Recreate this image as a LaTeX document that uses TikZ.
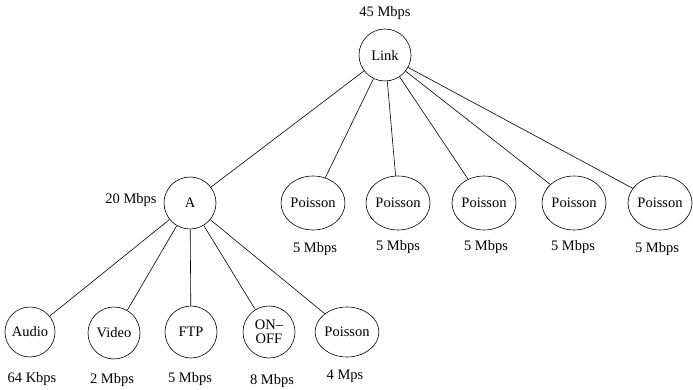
\documentclass[tikz,border=0pt]{standalone}
\usepackage{fontspec}
\setmainfont{Liberation Serif}
\usetikzlibrary{shapes.geometric}
\begin{document}
\begin{tikzpicture}[x=1pt,y=-1pt,line width=0.6pt,
  font=\fontsize{14.5}{13.5}\selectfont,
  src/.style={draw,circle,minimum size=52pt,inner sep=0pt,align=center},
  poi/.style={draw,ellipse,minimum width=64pt,minimum height=54pt,inner sep=0pt},
  rate/.style={inner sep=0pt}]
 \useasboundingbox (0,0) rectangle (693,390);
 % top of the tree
 \node[src] (link) at (385,55) {Link};
 \node[rate] (linkrate) at (385,13) {45 Mbps};
 \node[src] (a) at (190,203) {A};
 \node[rate] (arate) at (131,200) {20 Mbps};
 % poisson sources on the link
 \node[poi] (p1) at (313,203) {Poisson};
 \node[poi] (p2) at (398,203) {Poisson};
 \node[poi] (p3) at (484,203) {Poisson};
 \node[poi] (p4) at (574,203) {Poisson};
 \node[poi] (p5) at (660,203) {Poisson};
 \node[rate] (p1rate) at (315,249) {5 Mbps};
 \node[rate] (p2rate) at (398,247) {5 Mbps};
 \node[rate] (p3rate) at (486,247) {5 Mbps};
 \node[rate] (p4rate) at (573,247) {5 Mbps};
 \node[rate] (p5rate) at (657,249) {5 Mbps};
 % sources under A
 \node[src,minimum size=50pt] (audio) at (30,332) {Audio};
 \node[src] (video) at (114,333) {Video};
 \node[src] (ftp) at (191,332) {FTP};
 \node[src] (onoff) at (269,332) {ON--\\OFF};
 \node[poi,minimum width=62pt,minimum height=50pt] (pa) at (347,332) {Poisson};
 \node[rate] (audiorate) at (32,379) {64 Kbps};
 \node[rate] (videorate) at (112,380) {2 Mbps};
 \node[rate] (ftprate) at (190,379) {5 Mbps};
 \node[rate] (onoffrate) at (272,381) {8 Mbps};
 \node[rate] (parate) at (345,376) {4 Mps};
 % links
 \draw (link) -- (a);
 \draw (link) -- (p1);
 \draw (link) -- (p2);
 \draw (link) -- (p3);
 \draw (link) -- (p4);
 \draw (link) -- (p5);
 \draw (a) -- (audio);
 \draw (a) -- (video);
 \draw (a) -- (ftp);
 \draw (a) -- (onoff);
 \draw (a) -- (pa);
\end{tikzpicture}
\end{document}
